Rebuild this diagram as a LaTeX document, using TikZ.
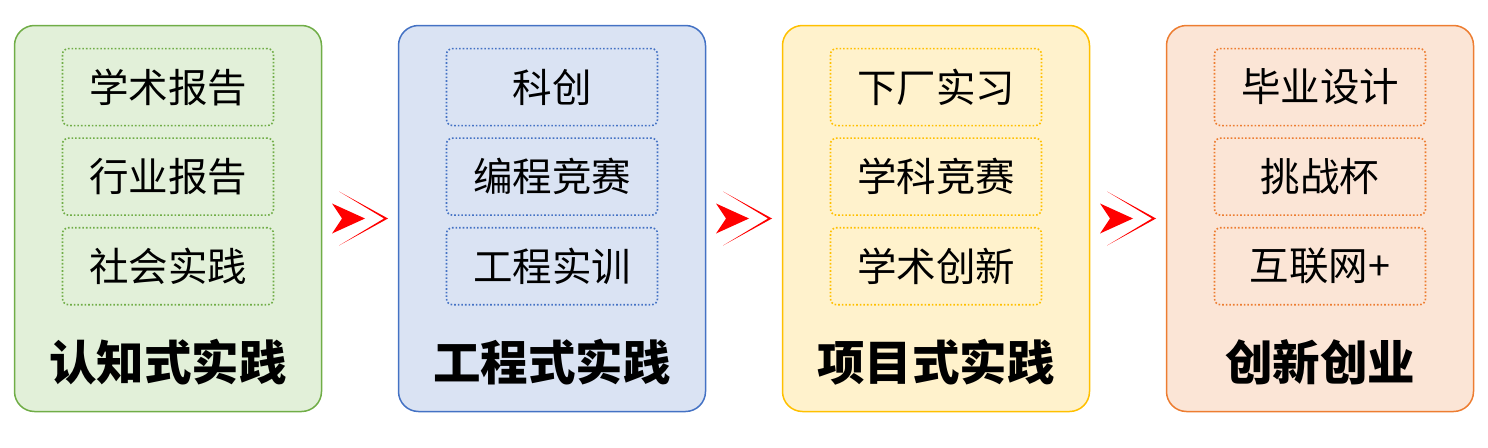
\documentclass[tikz,border=0pt]{standalone}
\usepackage{fontspec}
\newfontfamily\cjk{Noto Sans CJK SC}
\usetikzlibrary{positioning}
\definecolor{greenfill}{HTML}{E2F0D9}
\definecolor{greenline}{HTML}{70AD47}
\definecolor{bluefill}{HTML}{DAE3F3}
\definecolor{blueline}{HTML}{4472C4}
\definecolor{yellowfill}{HTML}{FFF2CC}
\definecolor{yellowline}{HTML}{FFC000}
\definecolor{orangefill}{HTML}{FBE5D6}
\definecolor{orangeline}{HTML}{ED7D31}
\tikzset{
panel/.style={draw, line width=1.5pt, rounded corners=20pt,
    minimum width=307pt, minimum height=386pt, inner sep=0pt},
item/.style={draw, line width=1.6pt, dash pattern=on 1.6pt off 2pt,
    rounded corners=6pt, minimum width=211pt, minimum height=77pt,
    inner sep=0pt, font=\cjk\fontsize{39.5}{42}\selectfont},
title/.style={font=\cjk\bfseries\fontsize{47.5}{50}\selectfont},
dblarrow/.pic={
    \fill[red] (-28,-15) -- (5,0) -- (-28,15) -- (-18,0) -- cycle;
    \fill[red] (-21,-27) -- (28,0) -- (-21,27) -- (24,0) -- cycle;
},
}

\begin{document}
\begin{tikzpicture}
    [x=1pt, y=-1pt,
    node distance=11pt
    ]
    \useasboundingbox (0,0) rectangle (1488,447);

    \node [panel, fill=greenfill, draw=greenline] (p1) at (168,218.5) {};
    \node [panel, fill=bluefill, draw=blueline, right=75.5pt of p1] (p2) {};
    \node [panel, fill=yellowfill, draw=yellowline, right=75.5pt of p2] (p3) {};
    \node [panel, fill=orangefill, draw=orangeline, right=75.5pt of p3] (p4) {};

    % first column
    \node [item, draw=greenline, below=23pt of p1.north] (p1a) {学术报告};
    \node [item, draw=greenline, below=of p1a] (p1b) {行业报告};
    \node [item, draw=greenline, below=of p1b] (p1c) {社会实践};
    \node [title, below=30pt of p1c] (t1) {认知式实践};

    % second column
    \node [item, draw=blueline, below=23pt of p2.north] (p2a) {科创};
    \node [item, draw=blueline, below=of p2a] (p2b) {编程竞赛};
    \node [item, draw=blueline, below=of p2b] (p2c) {工程实训};
    \node [title, below=30pt of p2c] (t2) {工程式实践};

    % third column
    \node [item, draw=yellowline, below=23pt of p3.north] (p3a) {下厂实习};
    \node [item, draw=yellowline, below=of p3a] (p3b) {学科竞赛};
    \node [item, draw=yellowline, below=of p3b] (p3c) {学术创新};
    \node [title, below=30pt of p3c] (t3) {项目式实践};

    % fourth column
    \node [item, draw=orangeline, below=23pt of p4.north] (p4a) {毕业设计};
    \node [item, draw=orangeline, below=of p4a] (p4b) {挑战杯};
    \node [item, draw=orangeline, below=of p4b] (p4c) {互联网+};
    \node [title, below=30pt of p4c] (t4) {创新创业};

    % arrows between the columns
    \path (p1.east) -- (p2.west) coordinate[pos=0.5] (a1);
    \path (p2.east) -- (p3.west) coordinate[pos=0.5] (a2);
    \path (p3.east) -- (p4.west) coordinate[pos=0.5] (a3);
    \pic at (a1) {dblarrow};
    \pic at (a2) {dblarrow};
    \pic at (a3) {dblarrow};

\end{tikzpicture}
\end{document}
